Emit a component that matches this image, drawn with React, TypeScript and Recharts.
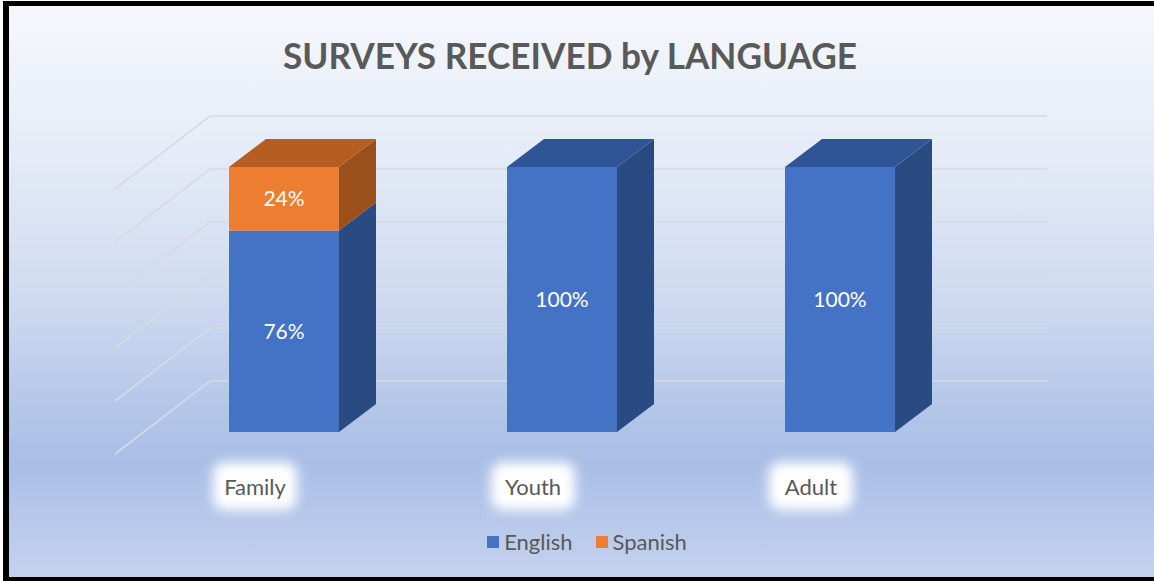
import React from 'react';
import { BarChart, Bar, XAxis, YAxis, CartesianGrid, Legend, LabelList } from 'recharts';

// values (percent of surveys per group)
const categories = ['Family', 'Youth', 'Adult'];
const englishPct = [76, 100, 100];
const spanishPct = [24, 0, 0];
const yTicks = [0, 20, 40, 60, 80, 100];
const seriesNames = ['English', 'Spanish'];

const data = categories.map((name, i) => ({
  name,
  English: englishPct[i],
  Spanish: spanishPct[i],
}));

const W = 1154;
const H = 581;

// depth of the fake 3d boxes
const DX = 37;
const DY = -28;

const faces: Record<string, { front: string; top: string; side: string }> = {
  English: { front: '#4472C4', top: '#2F5597', side: '#2A4A82' },
  Spanish: { front: '#ED7D31', top: '#B55E22', side: '#9B4F1A' },
};

const TEXT = '#595959';
const FONT = 'Lato, "Open Sans", sans-serif';

function Box3D(props: any) {
  const { x, y, width, height, payload, series } = props;
  if (!height || height <= 0) return null;
  const c = faces[series];
  const isTop = series === 'Spanish' || !payload.Spanish;
  const r = x + width;
  return (
    <g>
      <rect x={x} y={y} width={width} height={height} fill={c.front} />
      <polygon
        points={`${r},${y} ${r + DX},${y + DY} ${r + DX},${y + height + DY} ${r},${y + height}`}
        fill={c.side}
      />
      {isTop && (
        <polygon points={`${x},${y} ${x + DX},${y + DY} ${r + DX},${y + DY} ${r},${y}`} fill={c.top} />
      )}
    </g>
  );
}

// floor/back wall lines drawn in perspective from each y tick
const gridLine = (p: any) => {
  const { x1, x2, y1 } = p;
  return (
    <path
      key={`gl-${y1}`}
      d={`M${x1 - 30},${y1 + 22} L${x1 + 65},${y1 - 51} L${x2 + 68},${y1 - 51}`}
      stroke="#D5DAE3"
      strokeWidth={1.6}
      fill="none"
    />
  );
};

const CatTick = (props: any) => {
  const { x, y, payload } = props;
  const cx = x - 29;
  return (
    <g>
      <rect x={cx - 42} y={y + 30} width={84} height={48} rx={12} fill="#ffffff" filter="url(#labelGlow)" />
      <text x={cx} y={y + 63} textAnchor="middle" fontFamily={FONT} fontSize={22} fill={TEXT}>
        {payload.value}
      </text>
    </g>
  );
};

const LegendContent = () => (
  <div
    style={{
      display: 'flex',
      justifyContent: 'center',
      gap: 23,
      fontFamily: FONT,
      fontSize: 22,
      color: TEXT,
      paddingLeft: 20,
      boxSizing: 'border-box',
      width: W,
    }}
  >
    {seriesNames.map((s) => (
      <span key={s} style={{ display: 'flex', alignItems: 'center' }}>
        <span style={{ width: 12, height: 12, background: faces[s].front, marginRight: 5, display: 'inline-block' }} />
        {s}
      </span>
    ))}
  </div>
);

const pct = (v: any) => (v ? `${v}%` : '');

export default function App() {
  return (
    <div style={{ position: 'absolute', left: 0, top: 0, width: W, height: H, background: '#fff', overflow: 'hidden' }}>
      <div
        style={{
          position: 'absolute',
          left: 3,
          top: 1,
          width: W - 3,
          height: H - 1,
          boxSizing: 'border-box',
          borderTop: '5px solid #000',
          borderLeft: '6px solid #000',
          borderBottom: '4px solid #000',
          background: 'linear-gradient(180deg, #f5f7fc 0%, #e6ecf7 25%, #cfdbf0 50%, #b2c5e8 72%, #a9bee6 80%, #c4d2ee 100%)',
        }}
      />
      <svg width={0} height={0} style={{ position: 'absolute' }}>
        <defs>
          <filter id="labelGlow" x="-50%" y="-50%" width="200%" height="200%">
            <feGaussianBlur stdDeviation={6} />
          </filter>
        </defs>
      </svg>
      <svg width={W} height={100} style={{ position: 'absolute', left: 0, top: 0 }}>
        <text
          x={570}
          y={69}
          textAnchor="middle"
          fontFamily={FONT}
          fontWeight={700}
          fontSize={37}
          fill={TEXT}
          textLength={574}
          lengthAdjust="spacingAndGlyphs"
        >
          SURVEYS RECEIVED by LANGUAGE
        </text>
      </svg>
      <div style={{ position: 'absolute', left: 0, top: 0 }}>
        <BarChart width={W} height={H} data={data} margin={{ top: 167, right: 175, bottom: 89, left: 145 }}>
          <CartesianGrid vertical={false} horizontal={gridLine} />
          <YAxis hide domain={[0, 100]} ticks={yTicks} />
          <XAxis
            dataKey="name"
            height={60}
            axisLine={false}
            tickLine={false}
            tickSize={0}
            tickMargin={0}
            tick={<CatTick />}
            interval={0}
          />
          <Legend
            layout="horizontal"
            verticalAlign="middle"
            align="center"
            content={<LegendContent />}
            wrapperStyle={{ top: 528, left: 0, width: W }}
          />
          <Bar
            dataKey="English"
            stackId="s"
            barSize={110}
            fill={faces.English.front}
            isAnimationActive={false}
            shape={(p: any) => <Box3D {...p} series="English" />}
          >
            <LabelList dataKey="English" position="center" fill="#ffffff" fontFamily={FONT} fontSize={21} formatter={pct} />
          </Bar>
          <Bar
            dataKey="Spanish"
            stackId="s"
            barSize={110}
            fill={faces.Spanish.front}
            isAnimationActive={false}
            shape={(p: any) => <Box3D {...p} series="Spanish" />}
          >
            <LabelList dataKey="Spanish" position="center" fill="#ffffff" fontFamily={FONT} fontSize={21} formatter={pct} />
          </Bar>
        </BarChart>
      </div>
    </div>
  );
}
